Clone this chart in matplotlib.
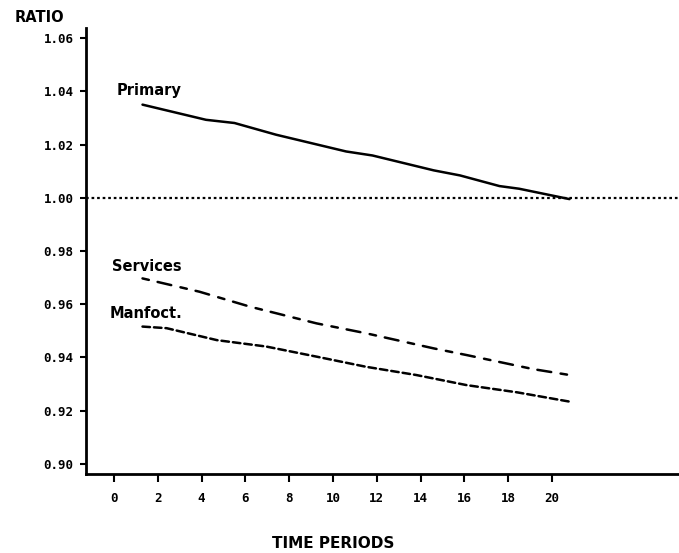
import matplotlib
matplotlib.use("Agg")
import matplotlib.pyplot as plt

# Data
primary_t = [1.3, 4.2, 5.5, 7.4, 10.6, 11.8, 14.6, 15.8, 17.6, 18.5, 20.8]
primary_v = [1.0350, 1.0293, 1.0281, 1.0237, 1.0174, 1.0159, 1.0103, 1.0084, 1.0044, 1.0034, 0.9995]

services_t = [1.3, 3.9, 6.2, 9.25, 11.5, 14.6, 16.1, 19.15, 20.8]
services_v = [0.9697, 0.9647, 0.9591, 0.9528, 0.9491, 0.9434, 0.9409, 0.9356, 0.9334]

manf_t = [1.3, 2.4, 4.7, 6.95, 9.25, 11.5, 13.8, 16.1, 18.4, 20.8]
manf_v = [0.9516, 0.9510, 0.9465, 0.9441, 0.9403, 0.9365, 0.9334, 0.9296, 0.9269, 0.9234]

reference_level = 1.00

xticks = [0, 2, 4, 6, 8, 10, 12, 14, 16, 18, 20]
yticks = [0.90, 0.92, 0.94, 0.96, 0.98, 1.00, 1.02, 1.04, 1.06]

fig = plt.figure(figsize=(6.79, 5.53), dpi=100)
ax = fig.add_axes([86/679, 79/553, 1 - 86/679, (474 - 28)/553])

ax.set_xlim(-1.28, 25.8)
ax.set_ylim(0.8962, 1.0638)

ax.axhline(reference_level, color="black", lw=1.6, ls=(0, (1.2, 1.3)))
ax.plot(primary_t, primary_v, color="black", lw=1.8, solid_capstyle="round")
ax.plot(services_t, services_v, color="black", lw=1.8,
        dashes=(2.6, 3.6, 5.6, 3.8), dash_capstyle="round")
ax.plot(manf_t, manf_v, color="black", lw=1.8, dashes=(3, 1.6), dash_capstyle="round")

lab_font = dict(fontsize=10.5, fontweight="bold", family="DejaVu Sans", color="black")
ax.text(0.1, 1.0405, "Primary", ha="left", va="center", **lab_font)
ax.text(-0.1, 0.9740, "Services", ha="left", va="center", **lab_font)
ax.text(-0.2, 0.9565, "Manfoct.", ha="left", va="center", **lab_font)

for s in ["top", "right"]:
    ax.spines[s].set_visible(False)
ax.spines["left"].set_linewidth(2.0)
ax.spines["bottom"].set_linewidth(2.0)

ax.set_xticks(xticks)
ax.set_xticklabels([str(v) for v in xticks])
ax.set_yticks(yticks)
ax.set_yticklabels([f"{v:.2f}" for v in yticks])

for lab in ax.get_xticklabels() + ax.get_yticklabels():
    lab.set_fontsize(9)
    lab.set_fontweight("bold")
    lab.set_family("DejaVu Sans Mono")

ax.tick_params(axis="y", direction="out", length=4, width=1.5, pad=5)
ax.tick_params(axis="x", direction="out", length=6, width=1.5, pad=7)

fig.text(15/679, 1 - 17/553, "RATIO", ha="left", va="center",
         fontsize=10.5, fontweight="bold", family="DejaVu Sans")
fig.text(333/679, 1 - 543/553, "TIME PERIODS", ha="center", va="center",
         fontsize=11, fontweight="bold", family="DejaVu Sans")

fig.savefig("out.png", dpi=100)
